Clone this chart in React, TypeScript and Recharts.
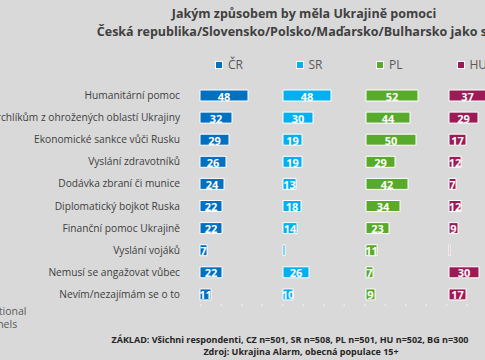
import React from 'react';
import { BarChart, Bar, XAxis, YAxis, LabelList } from 'recharts';

const categories = [
  'Humanitární pomoc',
  'Pomoc uprchlíkům z ohrožených oblastí Ukrajiny',
  'Ekonomické sankce vůči Rusku',
  'Vyslání zdravotníků',
  'Dodávka zbraní či munice',
  'Diplomatický bojkot Ruska',
  'Finanční pomoc Ukrajině',
  'Vyslání vojáků',
  'Nemusí se angažovat vůbec',
  'Nevím/nezajímám se o to',
];

const cr = [48, 32, 29, 26, 24, 22, 22, 7, 22, 11];
const sr = [48, 30, 19, 19, 13, 18, 14, 2, 26, 10];
const pl = [52, 44, 50, 29, 42, 34, 23, 11, 7, 9];
const hu = [37, 29, 17, 12, 7, 12, 9, 1, 30, 17];

const seriesNames = ['ČR', 'SR', 'PL', 'HU'];
const seriesKeys = ['cr', 'sr', 'pl', 'hu'];
const seriesColors = ['#0070C0', '#00B0F0', '#58AA2A', '#9C1B55'];

const PANEL = 83; // units per panel
const PANELS = 4;

const data = categories.map((c, i) => ({
  name: c,
  cr: cr[i],
  sr: sr[i],
  pl: pl[i],
  hu: hu[i],
}));

const FONT = '"Open Sans", "Noto Sans", sans-serif';

const YTick = (props: any) => {
  const { x, y, payload } = props;
  return (
    <text x={x - 12} y={y} textAnchor="end" dominantBaseline="central" fill="#404040" fontSize={10.2} fontFamily={FONT}>
      {payload.value}
    </text>
  );
};

const BarLabel = (props: any) => {
  const { x, y, width, height, value } = props;
  if (value < 3) return null;
  return (
    <text x={x + width / 2} y={y + height / 2 + 0.5} textAnchor="middle" dominantBaseline="central" fill="#ffffff" fontSize={11} fontWeight="bold" fontFamily={FONT}>
      {value}
    </text>
  );
};

export default function App() {
  return (
    <div style={{ position: 'absolute', left: 0, top: 0, width: 485, height: 360, overflow: 'hidden', background: '#d9d9d9', fontFamily: FONT }}>
      <div style={{ position: 'absolute', left: 304, top: 5, transform: 'translateX(-50%)', whiteSpace: 'nowrap', textAlign: 'center', fontWeight: 'bold', fontSize: 12.5, lineHeight: '18px', color: '#404040' }}>
        <div>Jakým způsobem by měla Ukrajině pomoci</div>
        <div>Česká republika/Slovensko/Polsko/Maďarsko/Bulharsko jako stát?</div>
      </div>
      <div style={{ position: 'absolute', left: 215, top: 56, display: 'flex', whiteSpace: 'nowrap' }}>
        {seriesNames.map((n, i) => (
          <div key={n} style={{ width: 80.5, display: 'flex', alignItems: 'center', fontSize: 12, color: '#595959' }}>
            <span style={{ display: 'inline-block', width: 6, height: 6, background: seriesColors[i], border: '1px solid #fff', marginRight: 5 }} />
            {n}
          </div>
        ))}
      </div>
      <div style={{ position: 'absolute', left: 0, top: 0 }}>
        <BarChart
          width={200 + PANEL * PANELS + 10}
          height={360}
          data={data}
          layout="vertical"
          margin={{ top: 84, right: 10, bottom: 54, left: 0 }}
        >
          {seriesKeys.map((k, i) => (
            <XAxis
              key={k}
              xAxisId={k}
              type="number"
              domain={[-i * PANEL, (PANELS - i) * PANEL]}
              hide={i !== 0}
              height={i === 0 ? 1 : 0}
              tick={false}
              tickLine={false}
              axisLine={i === 0 ? { stroke: '#efefef', strokeDasharray: '1.5 19', strokeWidth: 1.5 } : false}
            />
          ))}
          {seriesKeys.map((k, i) => (
            <YAxis
              key={k}
              yAxisId={k}
              type="category"
              dataKey="name"
              width={200}
              hide={i !== 0}
              axisLine={false}
              tickLine={false}
              tick={<YTick />}
              interval={0}
            />
          ))}
          {seriesKeys.map((k, i) => (
            <Bar
              key={k}
              dataKey={k}
              xAxisId={k}
              yAxisId={k}
              fill={seriesColors[i]}
              stroke="#ffffff"
              strokeWidth={1}
              barSize={11}
              isAnimationActive={false}
            >
              <LabelList dataKey={k} content={<BarLabel />} />
            </Bar>
          ))}
        </BarChart>
      </div>
      <div style={{ position: 'absolute', left: -15, top: 305, fontSize: 10.5, lineHeight: '12.5px', color: '#595959' }}>
        <div>National</div>
        <div>Panels</div>
      </div>
      <div style={{ position: 'absolute', left: 290, top: 334, transform: 'translateX(-50%)', whiteSpace: 'nowrap', fontSize: 9, fontWeight: 'bold', color: '#262626', lineHeight: '12px' }}>
        ZÁKLAD: Všichni respondenti, CZ n=501, SR n=508, PL n=501, HU n=502, BG n=300
      </div>
      <div style={{ position: 'absolute', left: 301, top: 346, transform: 'translateX(-50%)', whiteSpace: 'nowrap', fontSize: 9, fontWeight: 'bold', color: '#262626', lineHeight: '12px' }}>
        Zdroj: Ukrajina Alarm, obecná populace 15+
      </div>
    </div>
  );
}
